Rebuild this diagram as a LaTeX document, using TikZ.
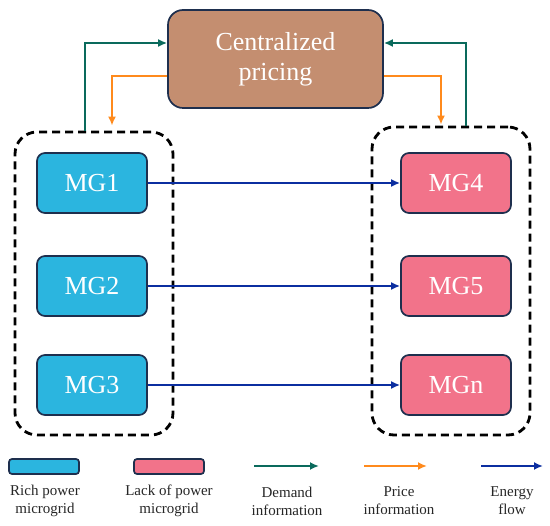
\documentclass[tikz,border=0pt]{standalone}
\usepackage{fontspec}
\setmainfont{Liberation Serif}
\usepackage{xcolor}
\usetikzlibrary{arrows.meta, calc, positioning}

\definecolor{richblue}{HTML}{2BB5DF}
\definecolor{lackpink}{HTML}{F2738A}
\definecolor{pricebrown}{HTML}{C48E70}
\definecolor{boxline}{HTML}{1E2F4E}
\definecolor{demandgreen}{HTML}{0A6A5C}
\definecolor{priceorange}{HTML}{FF8A1C}
\definecolor{energyblue}{HTML}{0B2EA0}

\tikzset{
  mgbox/.style={draw=boxline, line width=1.7pt, rounded corners=8pt, minimum width=110pt, minimum height=60pt, text=white, font=\fontsize{26}{30}\selectfont},
  groupbox/.style={draw=black, line width=2.8pt, dash pattern=on 8pt off 5pt, rounded corners=22pt},
  demandarrow/.style={draw=demandgreen, line width=2.6pt, -{Latex[length=9pt,width=8pt]}},
  pricearrow/.style={draw=priceorange, line width=2.6pt, -{Latex[length=9pt,width=8pt]}},
  energyarrow/.style={draw=energyblue, line width=2.6pt, -{Latex[length=9pt,width=8pt]}},
  keytext/.style={align=center, text=black!85, font=\fontsize{15}{18}\selectfont}
}

\begin{document}
\begin{tikzpicture}[x=1pt, y=-1pt]
\useasboundingbox (0,0) rectangle (550,526);

% Central pricing unit
\node[draw=boxline, line width=1.7pt, fill=pricebrown, rounded corners=15pt, minimum width=215pt, minimum height=98pt, text=white, align=center, font=\fontsize{26}{30}\selectfont] (cp) at (275.5,59) {Centralized\\pricing};

% Dashed groups
\node[groupbox, minimum width=158pt, minimum height=303pt] (richgrp) at (94,283.5) {};
\node[groupbox, minimum width=158pt, minimum height=308pt] (lackgrp) at (451,281) {};

% Microgrids
\node[mgbox, fill=richblue] (mg1) at (92,183) {MG1};
\node[mgbox, fill=richblue] (mg2) at (92,286) {MG2};
\node[mgbox, fill=richblue] (mg3) at (92,385) {MG3};
\node[mgbox, fill=lackpink] (mg4) at (456,183) {MG4};
\node[mgbox, fill=lackpink] (mg5) at (456,286) {MG5};
\node[mgbox, fill=lackpink] (mgn) at (456,385) {MGn};

% Demand and price information
\draw[demandarrow] ([xshift=-9pt]richgrp.north) |- ([yshift=16pt]cp.west);
\draw[pricearrow, shorten >=5pt] ([yshift=-17pt]cp.west) -| ([xshift=18pt]richgrp.north);
\draw[demandarrow] ([xshift=15pt]lackgrp.north) |- ([yshift=16pt]cp.east);
\draw[pricearrow, shorten >=1pt] ([yshift=-17pt]cp.east) -| ([xshift=-10pt]lackgrp.north);

% Energy flow
\draw[energyarrow] (mg1) -- (mg4);
\draw[energyarrow] (mg2) -- (mg5);
\draw[energyarrow] (mg3) -- (mgn);

% Legend
\node[draw=boxline, line width=1.7pt, fill=richblue, rounded corners=3pt, minimum width=70pt, minimum height=15pt] (richkey) at (44,466.5) {};
\node[draw=boxline, line width=1.7pt, fill=lackpink, rounded corners=3pt, minimum width=70pt, minimum height=15pt] (lackkey) at (169,466.5) {};
\coordinate (dk1) at (254,466);
\coordinate (dk2) at (319,466);
\coordinate (pk1) at (364,466);
\coordinate (pk2) at (427,466);
\coordinate (ek1) at (481,466);
\coordinate (ek2) at (543,466);
\draw[demandarrow] (dk1) -- (dk2);
\draw[pricearrow] (pk1) -- (pk2);
\draw[energyarrow] (ek1) -- (ek2);

\node[keytext] (richlab) at (45,501) {Rich power\\microgrid};
\node[keytext] (lacklab) at (169,501) {Lack of power\\microgrid};
\node[keytext] (demandlab) at (287,501) {Demand\\information};
\node[keytext] (pricelab) at (399,501) {Price\\information};
\node[keytext] (energylab) at (512,501) {Energy\\flow};

\end{tikzpicture}
\end{document}
